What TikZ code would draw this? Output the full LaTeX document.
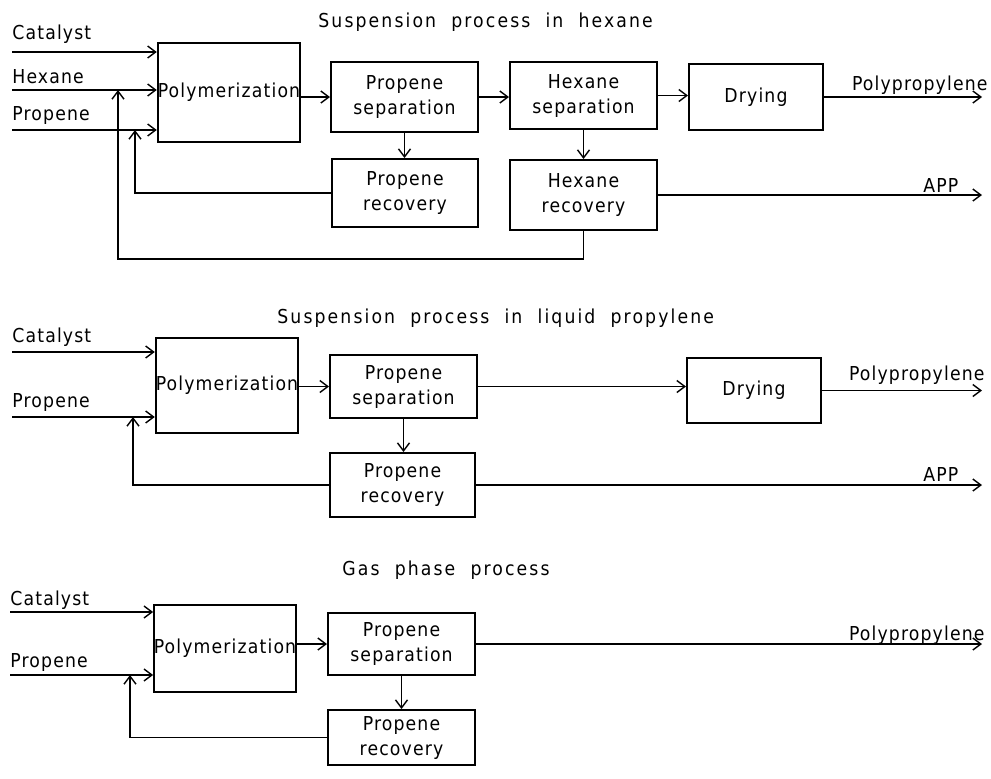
\documentclass[tikz,border=0pt]{standalone}
\usepackage{fontspec}
\setmainfont{DejaVu Sans Condensed}
\newfontfamily\lblfont[LetterSpace=6]{DejaVu Sans Condensed}
\newfontfamily\ttlfont[LetterSpace=11]{DejaVu Sans Condensed}
\newcommand\myfs{\fontsize{9.6}{12.5}\selectfont}
\usetikzlibrary{arrows.meta,calc}
\begin{document}
\begin{tikzpicture}[x=0.5pt,y=-0.5pt,
  box/.style={draw, line width=1pt, inner sep=0pt, align=center, font=\lblfont\myfs},
  arr/.style={-{Straight Barb[length=4pt,width=6pt]}, line width=0.7pt},
  lab/.style={font=\lblfont\myfs, anchor=base west, inner sep=0pt},
  ttl/.style={font=\ttlfont\myfs, anchor=base west, inner sep=0pt},
]
\useasboundingbox (0,0) rectangle (991,778);
\coordinate (rt) at (982,0);

% ===== Section 1 =====
\node[ttl] (t1) at (318,27) {Suspension\ \ process\ \ in\ \ hexane};
\node[box, minimum width=71pt, minimum height=49.5pt] (poly1) at (229,92.5) {Polymerization};
\node[box, minimum width=73.5pt, minimum height=35pt] (psep1) at (404.5,97) {Propene\\separation};
\node[box, minimum width=73.5pt, minimum height=33.5pt] (hsep1) at (583.5,95.5) {Hexane\\separation};
\node[box, minimum width=67pt, minimum height=33pt] (dry1) at (756,97) {Drying};
\node[box, minimum width=73pt, minimum height=34pt] (prec1) at (405,193) {Propene\\recovery};
\node[box, minimum width=73.5pt, minimum height=35pt] (hrec1) at (583.5,195) {Hexane\\recovery};

\node[lab] (lcat1) at (12,39) {Catalyst};
\node[lab] (lhex1) at (12,83) {Hexane};
\node[lab] (lpro1) at (12,120) {Propene};
\coordinate (c1) at (12,52);
\coordinate (h1) at (12,90);
\coordinate (p1) at (12,130);
\draw[arr] (c1) -- (c1 -| poly1.west);
\draw[arr] (h1) -- (h1 -| poly1.west);
\draw[arr] (p1) -- (p1 -| poly1.west);
\draw[arr] (poly1.east |- psep1.west) -- (psep1.west);
\draw[arr] (psep1.east) -- (psep1.east -| hsep1.west);
\draw[arr] (hsep1.east) -- (hsep1.east -| dry1.west);
\draw[arr] (dry1.east) -- (dry1.east -| rt);
\node[lab, anchor=base east] (lpp1) at (988,90) {Polypropylene};
\draw[arr] (psep1.south) -- (psep1.south |- prec1.north);
\draw[arr] (hsep1.south) -- (hsep1.south |- hrec1.north);
\coordinate (fb1a) at (135,130);
\draw[arr] (prec1.west) -| (fb1a);
\coordinate (fb1b) at (118,90);
\draw[arr] (hrec1.south) -- ++(0,28) -| (fb1b);
\draw[arr] (hrec1.east) -- (hrec1.east -| rt);
\node[lab] (lapp1) at (923,192) {APP};

% ===== Section 2 =====
\node[ttl] (t2) at (277,323) {Suspension\ \ process\ \ in\ \ liquid\ \ propylene};
\node[box, minimum width=71pt, minimum height=47.5pt] (poly2) at (227,385.5) {Polymerization};
\node[box, minimum width=73.5pt, minimum height=31.5pt] (psep2) at (403.5,386.5) {Propene\\separation};
\node[box, minimum width=67pt, minimum height=32.5pt] (dry2) at (754,390.5) {Drying};
\node[box, minimum width=72.5pt, minimum height=32pt] (prec2) at (402.5,485) {Propene\\recovery};

\node[lab] (lcat2) at (12,342) {Catalyst};
\node[lab] (lpro2) at (12,407) {Propene};
\coordinate (c2) at (12,352);
\coordinate (p2) at (12,417);
\draw[arr] (c2) -- (c2 -| poly2.west);
\draw[arr] (p2) -- (p2 -| poly2.west);
\draw[arr] (poly2.east |- psep2.west) -- (psep2.west);
\draw[arr] (psep2.east) -- (psep2.east -| dry2.west);
\draw[arr] (dry2.east) -- (dry2.east -| rt);
\node[lab, anchor=base east] (lpp2) at (985,380) {Polypropylene};
\draw[arr] (psep2.south) -- (psep2.south |- prec2.north);
\coordinate (fb2) at (133,417);
\draw[arr] (prec2.west) -| (fb2);
\draw[arr] (prec2.east) -- (prec2.east -| rt);
\node[lab] (lapp2) at (923,481) {APP};

% ===== Section 3 =====
\node[ttl] (t3) at (342,575) {Gas\ \ phase\ \ process};
\node[box, line width=0.7pt, minimum width=70pt, minimum height=43.5pt] (poly3) at (225,648.5) {Polymerization};
\node[box, minimum width=73.5pt, minimum height=31pt] (psep3) at (401.5,644) {Propene\\separation};
\node[box, minimum width=73.5pt, minimum height=27.5pt] (prec3) at (401.5,737.5) {Propene\\recovery};

\node[lab] (lcat3) at (10,605) {Catalyst};
\node[lab] (lpro3) at (10,667) {Propene};
\coordinate (c3) at (10,612);
\coordinate (p3) at (10,675);
\draw[arr] (c3) -- (c3 -| poly3.west);
\draw[arr] (p3) -- (p3 -| poly3.west);
\draw[arr] (poly3.east |- psep3.west) -- (psep3.west);
\draw[arr] (psep3.east) -- (psep3.east -| rt);
\node[lab, anchor=base east] (lpp3) at (985,640) {Polypropylene};
\draw[arr] (psep3.south) -- (psep3.south |- prec3.north);
\coordinate (fb3) at (130,675);
\draw[arr] (prec3.west) -| (fb3);
\end{tikzpicture}
\end{document}
